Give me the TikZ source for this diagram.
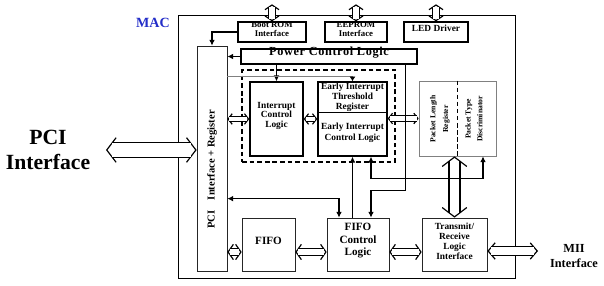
\documentclass[tikz,border=0pt]{standalone}
\usepackage{fontspec}
\setmainfont{Liberation Serif}
\newfontfamily\spacedfont{Liberation Serif}[LetterSpace=5]
\usepackage{xcolor}
\usetikzlibrary{arrows.meta,fit,calc}

\definecolor{macblue}{RGB}{35,45,200}

\begin{document}
\begin{tikzpicture}[
    x=0.03cm, y=-0.03cm,
    box/.style={rectangle, draw=black, line width=1.2pt, inner sep=0pt, align=center, font=\bfseries\fontsize{8}{8.5}\selectfont},
    thinbox/.style={rectangle, draw=black!85, line width=0.6pt, inner sep=0pt, align=center, font=\bfseries\fontsize{9.5}{10.5}\selectfont},
    arrow/.style={-{Latex[length=5pt,width=5pt]}, line width=1.1pt},
    biarrow/.style={{Latex[length=5pt,width=5pt]}-{Latex[length=5pt,width=5pt]}, line width=1.1pt},
    % gap, head length, head width (pt)
    bus/.style n args={3}{line width=1pt, draw=white,
        {Straight Barb[length=#2pt,width=#3pt,color=black]}-{Straight Barb[length=#2pt,width=#3pt,color=black]},
        postaction={draw=black, double=white, double distance=#1pt, arrows=-,
            shorten <={#2*(#1+1)/#3*1pt}, shorten >={#2*(#1+1)/#3*1pt}}},
    note/.style={align=center, font=\bfseries\fontsize{18.5}{21}\selectfont}
]
    \useasboundingbox (0,0) rectangle (604,286);

    % MAC block and the three outside interfaces on top
    \node[draw, line width=0.8pt, inner sep=0pt, fit={(178,15) (515,278)}] (mac) {};
    \node[text=macblue, font=\bfseries\fontsize{12}{12}\selectfont] (maclabel) at (153,23) {MAC};

    \node[box, fit={(238,22) (306,42)}, font=\bfseries\fontsize{7.5}{8}\selectfont] (bootrom) {Boot ROM\\Interface};
    \node[box, fit={(325,22) (387,42)}, font=\bfseries\fontsize{7.5}{8}\selectfont] (eeprom) {EEPROM\\Interface};
    \node[box, fit={(404,22) (468,42)}] (led) {LED Driver};

    \node[thinbox, fit={(197,46) (227,271)}] (pci) {};
    \node[rotate=90, font=\bfseries\fontsize{9}{9}\selectfont] at ([yshift=-0.33cm]pci.center) {PCI\quad Interface + Register};

    \node[box, fit={(241,49) (417,64)}, font=\spacedfont\bfseries\fontsize{10.5}{10.5}\selectfont] (pcl) {Power Control Logic};

    % interrupt group
    \node[draw, dashed, dash pattern=on 4pt off 2.5pt, line width=1.1pt, inner sep=0pt, fit={(242,70) (395,162)}] (intgroup) {};
    \node[box, fit={(250,82) (303,156)}] (icl) {Interrupt\\Control\\Logic};
    \node[box, fit={(318,82) (387,156)}] (ei) {};
    \draw[line width=0.8pt] ([yshift=0.21cm]ei.west) -- ([yshift=0.21cm]ei.east);
    \node[align=center, font=\bfseries\fontsize{8}{8.5}\selectfont] at (352.5,97) {Early Interrupt\\Threshold\\Register};
    \node[align=center, font=\bfseries\fontsize{8}{9}\selectfont] at (352.5,133) {Early Interrupt\\Control Logic};

    % packet registers
    \node[thinbox, draw=gray, fit={(419,81) (496,156)}] (packet) {};
    \draw[dashed, dash pattern=on 4pt off 2pt, line width=1pt] (packet.north) -- (packet.south);
    \node[rotate=90, align=center, font=\bfseries\fontsize{6.5}{11}\selectfont] at (440,119) {Packet Length\\Register};
    \node[rotate=90, align=center, font=\bfseries\fontsize{6.5}{10}\selectfont] at (474,119) {Packet Type\\Discriminator};

    % bottom row
    \node[thinbox, fit={(242,218) (295,271)}] (fifo) {FIFO};
    \node[thinbox, fit={(327,218) (389,271)}] (fcl) {FIFO\\Control\\Logic};
    \node[thinbox, fit={(422,218) (487,271)}, font=\bfseries\fontsize{8}{8.5}\selectfont] (trli) {Transmit/\\Receive\\Logic\\Interface};

    % outside labels
    \node[note] (pcilabel) at (48,150) {PCI\\Interface};
    \node[note, font=\bfseries\fontsize{10.5}{12.5}\selectfont] (miilabel) at (574,256) {MII\\Interface};
    \coordinate (pciport) at (106,150);
    \coordinate (miiport) at (538,251);
    \coordinate (fiforow) at ([yshift=-0.225cm]fifo.west);

    % buses
    \draw[bus={5}{4}{12}] (bootrom.north) -- ++(0,-17);
    \draw[bus={5}{4}{12}] (eeprom.north) -- ++(0,-17);
    \draw[bus={5}{4}{12}] (led.north) -- ++(0,-17);
    \draw[bus={12}{8}{21}] (pciport) -- (pciport -| pci.west);
    \draw[bus={3.5}{3.5}{9}] (pci.east |- icl.west) -- (icl.west);
    \draw[bus={3.5}{3.5}{9}] (icl.east) -- (ei.west |- icl.east);
    \draw[bus={3.5}{3.5}{9}] (ei.east |- packet.west) -- (packet.west);
    \draw[bus={5}{4.5}{13}] (fiforow -| pci.east) -- (fiforow);
    \draw[bus={5}{4.5}{13}] (fiforow -| fifo.east) -- (fiforow -| fcl.west);
    \draw[bus={5}{4.5}{13}] (fiforow -| fcl.east) -- (fiforow -| trli.west);
    \draw[bus={8.5}{8}{21}] (trli.north |- packet.south) -- (trli.north);
    \draw[bus={6}{6}{14}] (miiport -| trli.east) -- (miiport);

    % control lines
    \draw[arrow] (bootrom.west) -| (pci.north);
    \draw[arrow] (pcl.west) -- (pcl.west -| pci.east);
    \draw[arrow] (pcl.south -| icl.north) -- (icl.north);
    \draw[line width=0.6pt, gray, -{Latex[length=4pt,width=5pt,color=black]}] ([yshift=-0.93cm]pci.north east) -| (ei.north);
    \draw[arrow] (ei.south |- fcl.north) -- (ei.south);
    \draw[biarrow] ([xshift=0.555cm]ei.south) -- ++(0,22) -| ([xshift=0.765cm]packet.south);
    \draw[arrow] ([xshift=-0.36cm]pcl.south east) |- ([xshift=0.39cm,yshift=0.81cm]fcl.north) -- ([xshift=0.39cm]fcl.north);
    \draw[biarrow] ([xshift=-0.57cm]fcl.north) -- ++(0,-19) coordinate (fifotap) -- (fifotap -| pci.east);
\end{tikzpicture}
\end{document}
